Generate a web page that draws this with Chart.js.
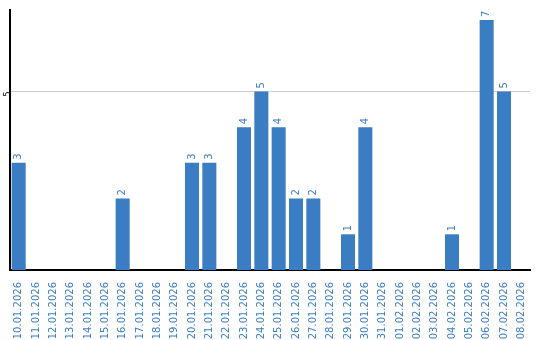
<!DOCTYPE html>
<html>
<head>
<meta charset="utf-8">
<script src="https://cdn.jsdelivr.net/npm/chart.js@4"></script>
<style>
  html, body { margin: 0; padding: 0; background: #fff; }
  #wrap { width: 540px; height: 340px; }
</style>
</head>
<body>
<div id="wrap"><canvas id="chart" width="540" height="340"></canvas></div>
<script>
// tarihler ve değerler
const dates = [
    '10.01.2026', '11.01.2026', '12.01.2026', '13.01.2026', '14.01.2026', '15.01.2026',
    '16.01.2026', '17.01.2026', '18.01.2026', '19.01.2026', '20.01.2026', '21.01.2026',
    '22.01.2026', '23.01.2026', '24.01.2026', '25.01.2026', '26.01.2026', '27.01.2026',
    '28.01.2026', '29.01.2026', '30.01.2026', '31.01.2026', '01.02.2026', '02.02.2026',
    '03.02.2026', '04.02.2026', '05.02.2026', '06.02.2026', '07.02.2026', '08.02.2026'
];
const counts = [3, 0, 0, 0, 0, 0, 2, 0, 0, 0, 3, 3, 0, 4, 5, 4, 2, 2, 0, 1, 4, 0, 0, 0, 0, 1, 0, 7, 5, 0];
const yTicks = [5];

const BLUE = '#3b7dc2';
const FONT = '"DejaVu Sans", Verdana, sans-serif';

// bar üstüne dik yazı
const valueLabels = {
    id: 'valueLabels',
    afterDatasetsDraw(chart) {
        const ctx = chart.ctx;
        const meta = chart.getDatasetMeta(0);
        ctx.save();
        ctx.fillStyle = BLUE;
        ctx.font = '10px ' + FONT;
        ctx.textAlign = 'left';
        ctx.textBaseline = 'middle';
        meta.data.forEach((bar, i) => {
            const v = counts[i];
            if (!v) return;
            ctx.save();
            ctx.translate(bar.x, bar.y - 3);
            ctx.rotate(-Math.PI / 2);
            ctx.fillText(String(v), 0, 0);
            ctx.restore();
        });
        ctx.restore();
    }
};

new Chart(document.getElementById('chart'), {
    type: 'bar',
    data: {
        labels: dates,
        datasets: [{
            data: counts,
            backgroundColor: BLUE,
            borderWidth: 0,
            barPercentage: 0.9,
            categoryPercentage: 0.9
        }]
    },
    options: {
        responsive: false,
        animation: false,
        layout: { padding: { top: 10, right: 10, left: 0, bottom: 0 } },
        plugins: {
            legend: { display: false },
            tooltip: { enabled: false }
        },
        scales: {
            x: {
                grid: { display: false },
                border: { color: '#000', width: 2 },
                ticks: {
                    color: BLUE,
                    font: { family: FONT, size: 10 },
                    minRotation: 90,
                    maxRotation: 90,
                    autoSkip: false,
                    padding: 4
                },
                afterFit: (s) => { s.height = 70; }
            },
            y: {
                min: 0,
                max: 7.28,
                afterBuildTicks: (s) => { s.ticks = yTicks.map(v => ({ value: v })); },
                grid: { color: '#cccccc', drawTicks: false },
                border: { color: '#000', width: 2 },
                ticks: {
                    color: '#000',
                    font: { family: FONT, size: 8 },
                    minRotation: 90,
                    maxRotation: 90,
                    padding: 2
                },
                afterFit: (s) => { s.width = 10; }
            }
        }
    },
    plugins: [valueLabels]
});
</script>
</body>
</html>
